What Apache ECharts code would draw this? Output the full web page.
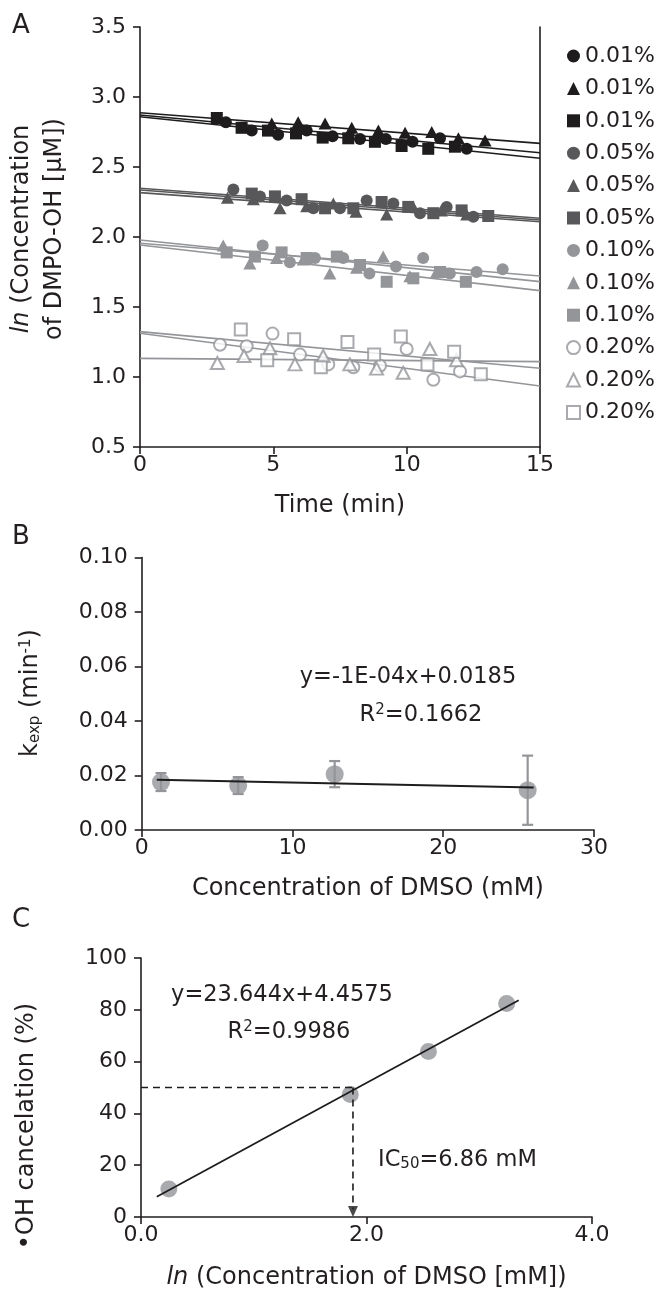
<!DOCTYPE html>
<html><head><meta charset="utf-8">
<script src="https://cdn.jsdelivr.net/npm/echarts@6/dist/echarts.min.js"></script>
<style>html,body{margin:0;padding:0;background:#fff}#c{width:659px;height:1301px}</style>
</head><body><div id="c"></div>
<script>
// ---------- Panel A data: time (min) and ln(concentration) ----------
const legendLabels = ['0.01%','0.01%','0.01%','0.05%','0.05%','0.05%','0.10%','0.10%','0.10%','0.20%','0.20%','0.20%'];
const a01CircT = [3.22,4.19,5.18,6.25,7.22,8.25,9.22,10.22,11.25,12.25];
const a01CircV = [2.82,2.76,2.73,2.76,2.72,2.70,2.70,2.68,2.705,2.63];
const a01TriT  = [4.94,5.93,6.94,7.94,8.94,9.94,10.94,11.94,12.94];
const a01TriV  = [2.81,2.82,2.81,2.78,2.76,2.745,2.75,2.705,2.69];
const a01SqT   = [2.88,3.81,4.80,5.85,6.85,7.81,8.81,9.81,10.81,11.81];
const a01SqV   = [2.85,2.78,2.76,2.74,2.71,2.705,2.68,2.65,2.63,2.645];
const a05CircT = [3.5,4.5,5.5,6.5,7.5,8.5,9.5,10.5,11.5,12.5];
const a05CircV = [2.34,2.29,2.26,2.205,2.205,2.26,2.24,2.17,2.215,2.145];
const a05TriT  = [3.28,4.25,5.25,6.25,7.25,8.1,9.25,10.25,11.3,12.25];
const a05TriV  = [2.28,2.27,2.205,2.22,2.24,2.18,2.16,2.215,2.19,2.16];
const a05SqT   = [4.19,5.06,6.06,6.94,8.0,9.06,10.06,11.0,12.06,13.06];
const a05SqV   = [2.31,2.29,2.27,2.205,2.205,2.25,2.215,2.17,2.19,2.15];
const a10CircT = [4.6,5.62,6.56,7.62,8.6,9.6,10.62,11.62,12.62,13.6];
const a10CircV = [1.94,1.82,1.85,1.85,1.74,1.79,1.85,1.74,1.75,1.77];
const a10TriT  = [3.12,4.12,5.12,6.12,7.12,8.12,9.12,10.12,11.12];
const a10TriV  = [1.94,1.81,1.85,1.84,1.74,1.78,1.86,1.72,1.75];
const a10SqT   = [3.25,4.31,5.31,6.25,7.38,8.25,9.25,10.25,11.25,12.22];
const a10SqV   = [1.89,1.86,1.89,1.85,1.86,1.80,1.68,1.705,1.75,1.68];
const a20CircT = [3.0,4.0,4.97,6.0,7.06,8.0,9.0,10.0,11.0,12.0];
const a20CircV = [1.23,1.22,1.31,1.16,1.09,1.07,1.08,1.20,0.98,1.04];
const a20TriT  = [2.9,3.9,4.87,5.81,6.87,7.87,8.87,9.87,10.87,11.87];
const a20TriV  = [1.10,1.15,1.205,1.09,1.15,1.09,1.06,1.03,1.20,1.12];
const a20SqT   = [3.78,4.77,5.78,6.78,7.78,8.78,9.78,10.78,11.78,12.78];
const a20SqV   = [1.34,1.12,1.27,1.07,1.25,1.16,1.29,1.09,1.18,1.02];
// trend lines: value at t = 0 and at t = 15
const lineT = [0, 15];
const fit01Circ = [2.871,2.602], fit01Tri = [2.888,2.669], fit01Sq = [2.859,2.562];
const fit05Circ = [2.336,2.121], fit05Tri = [2.348,2.134], fit05Sq = [2.317,2.109];
const fit10Circ = [1.955,1.721], fit10Tri = [1.979,1.681], fit10Sq = [1.943,1.617];
const fit20Circ = [1.312,0.936], fit20Tri = [1.133,1.110], fit20Sq = [1.324,1.062];

// ---------- Panel B data ----------
const bConc = [1.28, 6.4, 12.8, 25.6];
const bK    = [0.0176, 0.0163, 0.0205, 0.0146];
const bErr  = [0.0033, 0.0031, 0.0048, 0.0127];
const bFitX = [1.0, 26.0];
const bFitY = [0.0184, 0.0156];

// ---------- Panel C data ----------
const cLn   = [0.247, 1.856, 2.549, 3.243];
const cPct  = [10.8, 47.3, 63.9, 82.4];
const cFitX = [0.14, 3.35];
const cFitY = [7.8, 83.7];
const cIC50X = 1.88, cHalf = 50;

// ---------- styling ----------
const F = 'DejaVu Sans, Verdana, sans-serif';
const TXT = '#231f20';
const AX = '#231f20';
const TICK_FS = 22, TITLE_FS = 24, NOTE_FS = 22.5, SUB_FS = 15;
const groups = [
  {t:a01CircT,v:a01CircV,fit:fit01Circ,sym:'circle',  color:'#1e1c1d',hollow:false},
  {t:a01TriT, v:a01TriV, fit:fit01Tri, sym:'triangle',color:'#1e1c1d',hollow:false},
  {t:a01SqT,  v:a01SqV,  fit:fit01Sq,  sym:'rect',    color:'#1e1c1d',hollow:false},
  {t:a05CircT,v:a05CircV,fit:fit05Circ,sym:'circle',  color:'#58585a',hollow:false},
  {t:a05TriT, v:a05TriV, fit:fit05Tri, sym:'triangle',color:'#58585a',hollow:false},
  {t:a05SqT,  v:a05SqV,  fit:fit05Sq,  sym:'rect',    color:'#58585a',hollow:false},
  {t:a10CircT,v:a10CircV,fit:fit10Circ,sym:'circle',  color:'#939598',hollow:false},
  {t:a10TriT, v:a10TriV, fit:fit10Tri, sym:'triangle',color:'#939598',hollow:false},
  {t:a10SqT,  v:a10SqV,  fit:fit10Sq,  sym:'rect',    color:'#939598',hollow:false},
  {t:a20CircT,v:a20CircV,fit:fit20Circ,sym:'circle',  color:'#939598',hollow:true},
  {t:a20TriT, v:a20TriV, fit:fit20Tri, sym:'triangle',color:'#939598',hollow:true},
  {t:a20SqT,  v:a20SqV,  fit:fit20Sq,  sym:'rect',    color:'#939598',hollow:true}
];
const symSize = {circle:12, triangle:[13,12], rect:12};

const series = [];
const legendNames = [];
groups.forEach((g, i) => {
  series.push({
    type:'line', xAxisIndex:0, yAxisIndex:0, silent:true, z:1,
    data: lineT.map((t,k)=>[t, g.fit[k]]), symbol:'none',
    lineStyle:{color:g.color, width:1.6}
  });
});
groups.forEach((g, i) => {
  const nm = legendLabels[i] + '#' + i;
  legendNames.push(nm);
  series.push({
    type:'scatter', name:nm, xAxisIndex:0, yAxisIndex:0, z:3,
    symbol:g.sym, symbolSize:symSize[g.sym],
    data: g.t.map((t,k)=>[t, g.v[k]]),
    itemStyle: g.hollow ? {color:'#ffffff', borderColor:g.color, borderWidth:2}
                        : {color:g.color, opacity:1}
  });
});
// Panel B
series.push({
  type:'custom', xAxisIndex:1, yAxisIndex:1, z:2,
  data: bConc.map((c,i)=>[c, bK[i]-bErr[i], bK[i]+bErr[i]]),
  renderItem:(params, api)=>{
    const lo = api.coord([api.value(0), api.value(1)]);
    const hi = api.coord([api.value(0), api.value(2)]);
    const w = 5.5, st = {stroke:'#939598', lineWidth:2.2};
    return {type:'group', children:[
      {type:'line', shape:{x1:lo[0],y1:lo[1],x2:hi[0],y2:hi[1]}, style:st},
      {type:'line', shape:{x1:lo[0]-w,y1:lo[1],x2:lo[0]+w,y2:lo[1]}, style:st},
      {type:'line', shape:{x1:hi[0]-w,y1:hi[1],x2:hi[0]+w,y2:hi[1]}, style:st}
    ]};
  }
});
series.push({
  type:'scatter', xAxisIndex:1, yAxisIndex:1, z:3, symbol:'circle', symbolSize:18,
  data: bConc.map((c,i)=>[c, bK[i]]), itemStyle:{color:'#939598'}
});
series.push({
  type:'line', xAxisIndex:1, yAxisIndex:1, z:4, symbol:'none', silent:true,
  data: bFitX.map((x,i)=>[x, bFitY[i]]), lineStyle:{color:'#1e1c1d', width:2}
});
// Panel C
series.push({
  type:'scatter', xAxisIndex:2, yAxisIndex:2, z:3, symbol:'circle', symbolSize:17,
  data: cLn.map((x,i)=>[x, cPct[i]]), itemStyle:{color:'#939598'}
});
series.push({
  type:'line', xAxisIndex:2, yAxisIndex:2, z:4, symbol:'none', silent:true,
  data: cFitX.map((x,i)=>[x, cFitY[i]]), lineStyle:{color:'#1e1c1d', width:1.8}
});
series.push({
  type:'line', xAxisIndex:2, yAxisIndex:2, z:5, symbol:'none', silent:true,
  data: [[0, cHalf],[cIC50X, cHalf]], lineStyle:{color:'#1e1c1d', width:1.6, type:[7,5]}
});
series.push({
  type:'line', xAxisIndex:2, yAxisIndex:2, z:5, symbol:'none', silent:true,
  data: [[cIC50X, cHalf],[cIC50X, 3]], lineStyle:{color:'#1e1c1d', width:1.6, type:[7,5]}
});
series.push({
  type:'scatter', xAxisIndex:2, yAxisIndex:2, z:6, silent:true,
  symbol:'triangle', symbolRotate:180, symbolSize:[10,11],
  data: [[cIC50X, 2.1]], itemStyle:{color:'#1e1c1d'}
});

const axisLine = {show:true, onZero:false, lineStyle:{color:AX, width:1.6}};
const axisTick = {show:true, inside:false, length:7, lineStyle:{color:AX, width:1.6}};
const lab = (fmt, margin) => ({fontFamily:F, fontSize:TICK_FS, color:TXT, margin:margin, formatter:fmt});
const titleStyle = {fontFamily:F, fontSize:TITLE_FS, color:TXT};

const option = {
  animation:false,
  backgroundColor:'#ffffff',
  textStyle:{fontFamily:F},
  grid:[
    {left:140, top:27, width:400, height:420},
    {left:141.7, top:557.5, width:452.3, height:272.5},
    {left:141, top:958, width:451, height:259}
  ],
  xAxis:[
    {gridIndex:0, type:'value', min:0, max:15, interval:5, axisLine, axisTick, splitLine:{show:false},
     axisLabel:lab(v=>String(v), 7),
     name:'Time (min)', nameLocation:'middle', nameGap:47, nameTextStyle:titleStyle},
    {gridIndex:1, type:'value', min:0, max:30, interval:10, axisLine, axisTick, splitLine:{show:false},
     axisLabel:lab(v=>String(v), 7),
     name:'Concentration of DMSO (mM)', nameLocation:'middle', nameGap:47, nameTextStyle:titleStyle},
    {gridIndex:2, type:'value', min:0, max:4, interval:2, axisLine, axisTick, splitLine:{show:false},
     axisLabel:lab(v=>v.toFixed(1), 7),
     name:'{i|ln} (Concentration of DMSO [mM])', nameLocation:'middle', nameGap:49,
     nameTextStyle:Object.assign({}, titleStyle,
       {rich:{i:{fontFamily:F, fontSize:TITLE_FS, fontStyle:'italic', color:TXT}}})}
  ],
  yAxis:[
    {gridIndex:0, type:'value', min:0.5, max:3.5, interval:0.5, axisLine, axisTick, splitLine:{show:false},
     axisLabel:lab(v=>v.toFixed(1), 14)},
    {gridIndex:1, type:'value', min:0, max:0.1, interval:0.02, axisLine, axisTick, splitLine:{show:false},
     axisLabel:lab(v=>v.toFixed(2), 14)},
    {gridIndex:2, type:'value', min:0, max:100, interval:20, axisLine, axisTick, splitLine:{show:false},
     axisLabel:lab(v=>String(v), 14)},
    {gridIndex:0, type:'value', position:'right', min:0.5, max:3.5, axisLine,
     axisTick:{show:false}, axisLabel:{show:false}, splitLine:{show:false}}
  ],
  legend:{
    orient:'vertical', left:561, top:40, itemWidth:13, itemHeight:13, itemGap:10.4,
    selectedMode:false, data:legendNames, formatter:n=>n.split('#')[0],
    textStyle:{fontFamily:F, fontSize:22, color:TXT, lineHeight:22}
  },
  graphic:[
    {type:'text', left:12, top:13, style:{text:'A', font:'26px '+F, fill:TXT}},
    {type:'text', left:12, top:524, style:{text:'B', font:'26px '+F, fill:TXT}},
    {type:'text', left:12, top:907, style:{text:'C', font:'26px '+F, fill:TXT}},
    {type:'text', x:38, y:229, rotation:Math.PI/2,
     style:{text:'{i|ln} (Concentration\nof DMPO-OH [μM])', font:TITLE_FS+'px '+F, fill:TXT,
       align:'center', verticalAlign:'middle', lineHeight:33,
       rich:{i:{fontStyle:'italic', fontSize:TITLE_FS, fontFamily:F, fill:TXT, lineHeight:33}}}},
    {type:'text', x:31, y:693, rotation:Math.PI/2,
     style:{text:'k{sub|exp} (min{sup|-1})', font:TITLE_FS+'px '+F, fill:TXT,
       align:'center', verticalAlign:'middle',
       rich:{sub:{fontSize:SUB_FS, fontFamily:F, fill:TXT, verticalAlign:'bottom', padding:[9,0,0,0]},
             sup:{fontSize:SUB_FS, fontFamily:F, fill:TXT, verticalAlign:'top', padding:[0,0,9,0]}}}},
    {type:'text', x:27, y:1126, rotation:Math.PI/2,
     style:{text:'•OH cancelation (%)', font:TITLE_FS+'px '+F, fill:TXT, align:'center', verticalAlign:'middle'}},
    {type:'text', x:408, y:677,
     style:{text:'y=-1E-04x+0.0185', font:NOTE_FS+'px '+F, fill:TXT, align:'center', verticalAlign:'middle'}},
    {type:'text', x:421, y:715,
     style:{text:'R{sup|2}=0.1662', font:NOTE_FS+'px '+F, fill:TXT, align:'center', verticalAlign:'middle',
       rich:{sup:{fontSize:SUB_FS, fontFamily:F, fill:TXT, verticalAlign:'top', padding:[0,0,9,0]}}}},
    {type:'text', x:282, y:995,
     style:{text:'y=23.644x+4.4575', font:NOTE_FS+'px '+F, fill:TXT, align:'center', verticalAlign:'middle'}},
    {type:'text', x:289, y:1032,
     style:{text:'R{sup|2}=0.9986', font:NOTE_FS+'px '+F, fill:TXT, align:'center', verticalAlign:'middle',
       rich:{sup:{fontSize:SUB_FS, fontFamily:F, fill:TXT, verticalAlign:'top', padding:[0,0,9,0]}}}},
    {type:'text', x:378, y:1160,
     style:{text:'IC{sub|50}=6.86 mM', font:NOTE_FS+'px '+F, fill:TXT, align:'left', verticalAlign:'middle',
       rich:{sub:{fontSize:SUB_FS, fontFamily:F, fill:TXT, verticalAlign:'bottom', padding:[9,0,0,0]}}}}
  ],
  series
};
const chart = echarts.init(document.getElementById('c'), null, {renderer:'canvas', width:659, height:1301});
chart.setOption(option);
</script></body></html>
